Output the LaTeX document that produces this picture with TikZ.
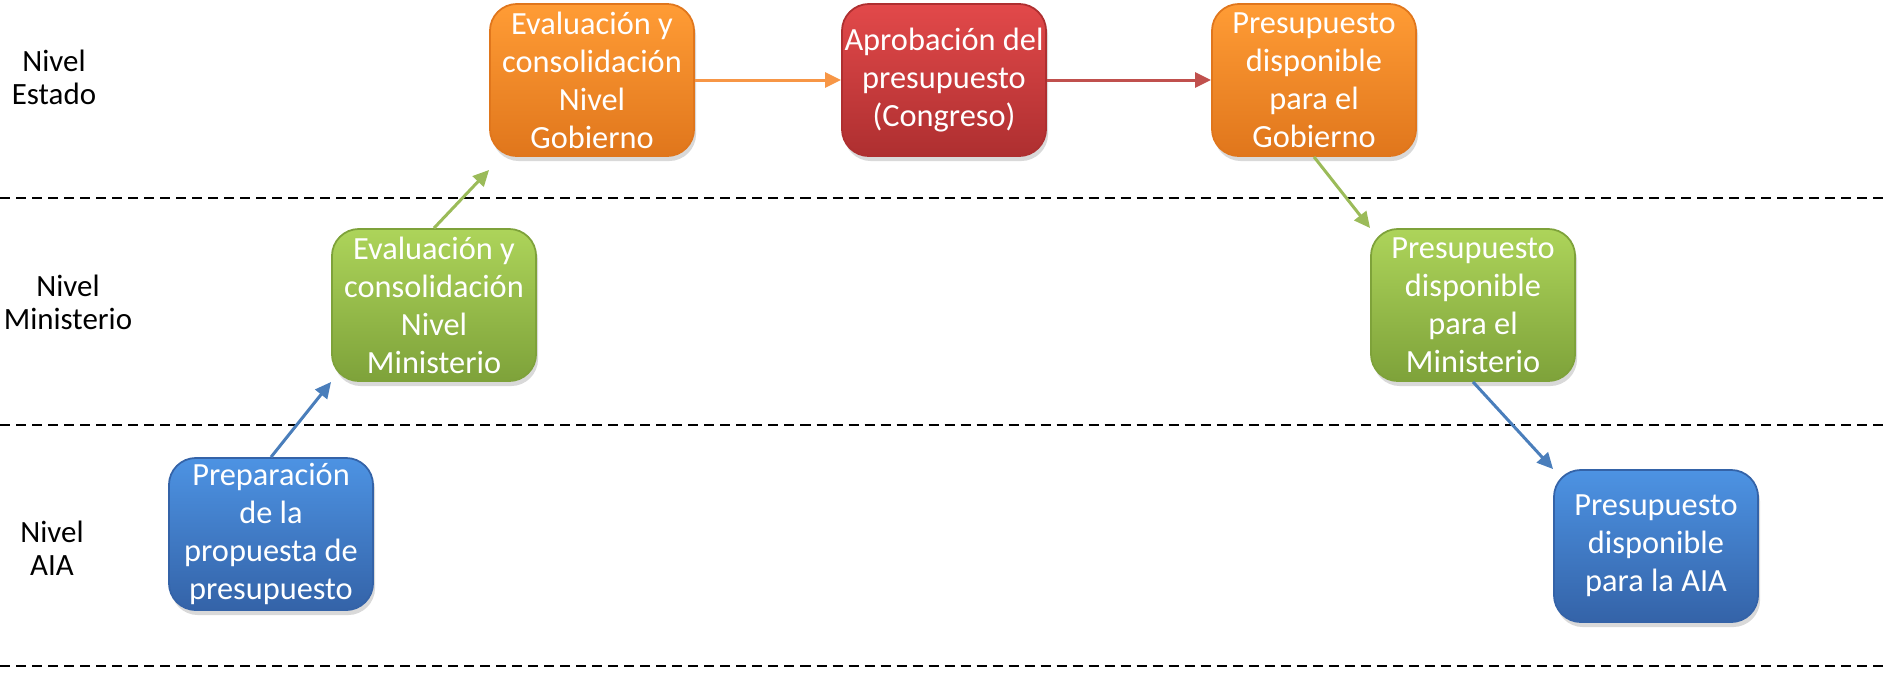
\documentclass[tikz,border=0pt]{standalone}
\usepackage{fontspec}
\setmainfont{Carlito}
\usetikzlibrary{arrows.meta,shadows}
\definecolor{bluetop}{HTML}{4D93E3}
\definecolor{bluebot}{HTML}{3463A8}
\definecolor{blueline}{HTML}{4A7EBB}
\definecolor{greentop}{HTML}{ADD45A}
\definecolor{greenbot}{HTML}{7EA23A}
\definecolor{greenline}{HTML}{9BBB59}
\definecolor{orangetop}{HTML}{FF9C35}
\definecolor{orangebot}{HTML}{E0761C}
\definecolor{orangeline}{HTML}{F79646}
\definecolor{redtop}{HTML}{E2494A}
\definecolor{redbot}{HTML}{AE2F30}
\definecolor{redline}{HTML}{C0504D}

\begin{document}
\begin{tikzpicture}[x=0.01cm,y=-0.01cm,
	stage/.style={rounded corners=0.27cm, minimum width=2.04cm, minimum height=1.52cm,
		inner sep=0pt, align=center, text=white, line width=0.5pt,
		font=\fontsize{9.2}{10.8}\selectfont,
		drop shadow={opacity=0.3, shadow xshift=0.02cm, shadow yshift=-0.05cm}},
	bluestage/.style={stage, top color=bluetop, bottom color=bluebot, draw=bluebot},
	greenstage/.style={stage, top color=greentop, bottom color=greenbot, draw=greenbot},
	orangestage/.style={stage, top color=orangetop, bottom color=orangebot, draw=orangebot},
	redstage/.style={stage, top color=redtop, bottom color=redbot, draw=redbot},
	level/.style={align=center, font=\fontsize{8.8}{9.4}\selectfont},
	flow/.style={-{Triangle[length=0.16cm,width=0.15cm]}, line width=0.03cm},
	sep/.style={dash pattern=on 0.1cm off 0.06cm, line width=0.02cm}]
		\useasboundingbox (0,0) rectangle (1883,672);
		%levels
		\draw[sep] (0,198) -- (1883,198);
		\draw[sep] (0,425) -- (1883,425);
		\draw[sep] (0,666) -- (1883,666);
		\node[level] (estado) at (54,77) {Nivel\\Estado};
		\node[level] (ministerio) at (68,302) {Nivel\\Ministerio};
		\node[level] (aia) at (52,548) {Nivel\\AIA};
		%stages
		\node[orangestage] (evalgob) at (592,80) {Evaluación y\\consolidación\\Nivel\\Gobierno};
		\node[redstage] (congreso) at (944,80) {Aprobación del\\presupuesto\\(Congreso)};
		\node[orangestage] (dispgob) at (1314,80) {Presupuesto\\disponible\\para el\\Gobierno};
		\node[greenstage] (evalmin) at (434,305) {Evaluación y\\consolidación\\Nivel\\Ministerio};
		\node[greenstage] (dispmin) at (1473,305) {Presupuesto\\disponible\\para el\\Ministerio};
		\node[bluestage] (prep) at (271,534) {Preparación\\de la\\propuesta de\\presupuesto};
		\node[bluestage] (dispaia) at (1656,546) {Presupuesto\\disponible\\para la AIA};
		%flow
		\draw[flow, blueline] (prep.north) -- (evalmin.south west);
		\draw[flow, greenline] (evalmin.north) -- ([yshift=-0.13cm]evalgob.south west);
		\draw[flow, orangeline] (evalgob.east) -- (congreso.west);
		\draw[flow, redline] (congreso.east) -- (dispgob.west);
		\draw[flow, greenline] (dispgob.south) -- (dispmin.north west);
		\draw[flow, blueline] (dispmin.south) -- (dispaia.north west);
\end{tikzpicture}
\end{document}
